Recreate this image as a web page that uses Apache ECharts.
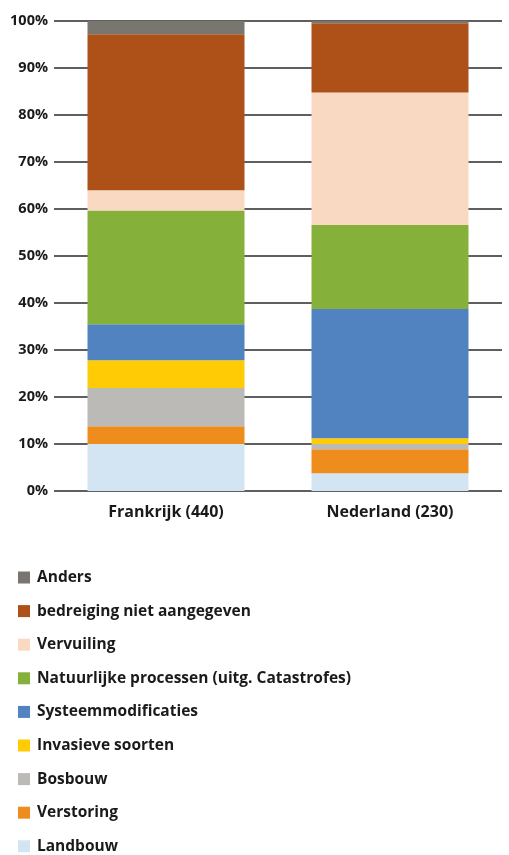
<!DOCTYPE html>
<html>
<head>
<meta charset="utf-8">
<script src="https://cdn.jsdelivr.net/npm/echarts@6/dist/echarts.min.js"></script>
<style>
  html, body { margin: 0; padding: 0; background: #fff; }
  #chart { width: 509px; height: 855px; }
</style>
</head>
<body>
<div id="chart"></div>
<script>
// landen (aantal soorten)
var categories = ['Frankrijk (440)', 'Nederland (230)'];
// bedreigingen, van onder naar boven gestapeld
var names = ['Landbouw', 'Verstoring', 'Bosbouw', 'Invasieve soorten', 'Systeemmodificaties',
  'Natuurlijke processen (uitg. Catastrofes)', 'Vervuiling', 'bedreiging niet aangegeven', 'Anders'];
var colors = ['#d3e4f3', '#ef8c1e', '#bcbab6', '#ffcb05', '#5083bf',
  '#85b13a', '#f9d9c1', '#ae5119', '#79756f'];
// aandeel in procenten per land
var frankrijk = [10.0, 3.8, 8.1, 5.9, 7.7, 24.2, 4.3, 33.2, 2.8];
var nederland = [3.8, 5.1, 1.1, 1.2, 27.5, 17.9, 28.2, 14.7, 0.5];
var yTicks = [0, 10, 20, 30, 40, 50, 60, 70, 80, 90, 100];

var series = [];
for (var i = 0; i < names.length; i++) {
  series.push({
    name: names[i],
    type: 'bar',
    stack: 'totaal',
    barWidth: 157,
    itemStyle: { color: colors[i] },
    data: [frankrijk[i], nederland[i]]
  });
}

var myChart = echarts.init(document.getElementById('chart'));
var option = {
  animation: false,
  grid: { left: 54, right: 7, top: 21, height: 470 },
  legend: {
    orient: 'vertical',
    left: 13,
    top: 562,
    height: 295,
    itemWidth: 12,
    itemHeight: 12,
    itemGap: 12.6,
    icon: 'rect',
    data: names.slice().reverse(),
    textStyle: { fontFamily: 'Open Sans', fontWeight: 700, fontSize: 15.5, lineHeight: 21, color: '#1a1a1a', padding: [0, 0, 0, 2] }
  },
  xAxis: {
    type: 'category',
    data: categories,
    axisLine: { show: false },
    axisTick: { show: false },
    axisLabel: { fontFamily: 'Open Sans', fontWeight: 700, fontSize: 16, color: '#1a1a1a', margin: 13 }
  },
  yAxis: {
    type: 'value',
    min: 0,
    max: 100,
    interval: 10,
    axisLine: { show: false },
    axisTick: { show: false },
    splitLine: { lineStyle: { color: '#2a2a2a', width: 1.5 } },
    axisLabel: {
      fontFamily: 'Open Sans', fontWeight: 700, fontSize: 14.5, color: '#1a1a1a', margin: 6,
      formatter: function (v) { return yTicks.indexOf(v) >= 0 ? v + '%' : ''; }
    }
  },
  series: series
};
myChart.setOption(option);
</script>
</body>
</html>
